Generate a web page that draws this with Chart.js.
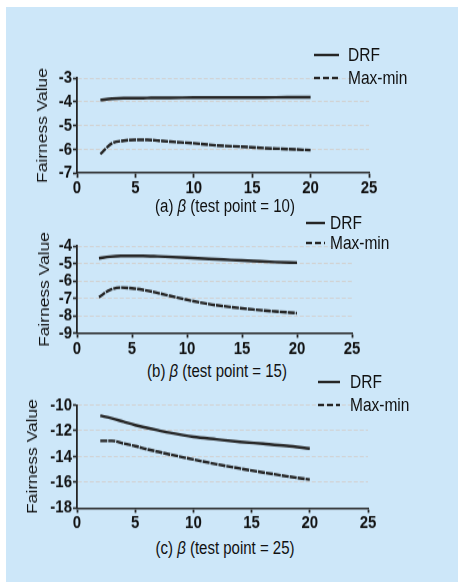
<!DOCTYPE html>
<html>
<head>
<meta charset="utf-8">
<script src="https://cdn.jsdelivr.net/npm/chart.js@4.4.0/dist/chart.umd.min.js"></script>
<style>
  body { margin: 0; width: 458px; height: 582px; background: #fff; position: relative; overflow: hidden;
         font-family: "Liberation Sans", Arial, sans-serif; color: #111; }
  #panel { position: absolute; left: 6px; top: 7px; right: 0; bottom: 0; background: #cde7f9; }
  .wrap { position: absolute; left: 0; transform-origin: 0 0; }
  .wrap canvas { display: block; }
  .cap { position: absolute; font-size: 15px; white-space: nowrap; transform: translate(-50%, -50%) scaleY(1.2); }
  .leg { position: absolute; font-size: 15.5px; white-space: nowrap; transform: translateY(-50%) scaleY(1.2);
         display: flex; align-items: center; }
</style>
</head>
<body>
<div id="panel"></div>

<div class="cap" style="left:225px;top:205px">(a) <i>β</i> (test point = 10)</div>
<div class="cap" style="left:217px;top:370px">(b) <i>β</i> (test point = 15)</div>
<div class="cap" style="left:225px;top:547px">(c) <i>β</i> (test point = 25)</div>

<script>
// beta values where curves were read
const betaX = [2, 3, 4, 5, 6, 7, 8, 10, 12, 14, 16, 18, 20];

// (a) test point = 10
const drfA    = [-3.93, -3.87, -3.85, -3.85, -3.84, -3.83, -3.83, -3.82, -3.82, -3.82, -3.82, -3.81, -3.81];
const maxminA = [-6.2, -5.75, -5.64, -5.6, -5.6, -5.64, -5.68, -5.75, -5.84, -5.89, -5.95, -5.99, -6.04];
// (b) test point = 15
const drfB    = [-4.71, -4.61, -4.57, -4.57, -4.57, -4.59, -4.61, -4.67, -4.74, -4.8, -4.86, -4.92, -4.96];
const maxminB = [-6.94, -6.52, -6.39, -6.43, -6.52, -6.65, -6.8, -7.09, -7.34, -7.51, -7.65, -7.76, -7.86];
// (c) test point = 25
const drfC    = [-10.83, -11.04, -11.3, -11.56, -11.77, -11.97, -12.16, -12.47, -12.67, -12.86, -13.01, -13.17, -13.38];
const maxminC = [-12.78, -12.78, -12.99, -13.19, -13.43, -13.64, -13.84, -14.23, -14.6, -14.93, -15.24, -15.53, -15.79];

const xTicks = { min: 0, max: 25, step: 5 };
const legendNames = ["DRF", "Max-min"];

const ink = "#262626";
const gridGrey = "#d2d2d2";
const stretch = 1.2; // the original figure is stretched vertically

function pts(ys) { return betaX.map((x, i) => ({ x: x, y: ys[i] })); }

function addLegend(lineX, len, gap, yDrf, yMm) {
  [[yDrf, ""], [yMm, "6 3"]].forEach(([y, dash], i) => {
    const d = document.createElement("div");
    d.className = "leg";
    d.style.left = lineX + "px";
    d.style.top = y + "px";
    d.innerHTML = '<svg width="' + len + '" height="4" style="margin-right:' + gap + 'px"><line x1="0" y1="2" x2="' + len +
      '" y2="2" stroke="' + ink + '" stroke-width="2" stroke-dasharray="' + dash + '"/></svg>' + legendNames[i];
    document.body.appendChild(d);
  });
}

// box: page coords of canvas top/bottom and plot top/bottom/right
function makeChart(drf, mm, yMin, yMax, yStep, box) {
  const wrap = document.createElement("div");
  wrap.className = "wrap";
  wrap.style.top = box.canvasTop + "px";
  wrap.style.transform = "scaleY(" + stretch + ")";
  const cv = document.createElement("canvas");
  const h = Math.round((box.canvasBot - box.canvasTop) / stretch);
  cv.width = 458; cv.height = h;
  wrap.appendChild(cv);
  document.body.insertBefore(wrap, document.querySelector(".cap"));
  const padTop = (box.plotTop - box.canvasTop) / stretch;
  const xh = h - (box.plotBot - box.canvasTop) / stretch;

  new Chart(cv, {
    type: "line",
    data: {
      datasets: [
        { label: legendNames[0], data: pts(drf), borderColor: ink, borderWidth: 2.4, pointRadius: 0,
          cubicInterpolationMode: "monotone", fill: false },
        { label: legendNames[1], data: pts(mm), borderColor: ink, borderWidth: 2.4, borderDash: [7, 1],
          pointRadius: 0, cubicInterpolationMode: "monotone", fill: false }
      ]
    },
    options: {
      responsive: false,
      animation: false,
      layout: { padding: { left: 0, top: padTop, right: 458 - box.plotRight, bottom: 0 } },
      plugins: { legend: { display: false }, tooltip: { enabled: false } },
      scales: {
        x: {
          type: "linear", min: xTicks.min, max: xTicks.max,
          ticks: { stepSize: xTicks.step, color: "#111", font: { size: 15, weight: "bold" }, padding: 0, maxRotation: 0 },
          grid: { drawOnChartArea: false, drawTicks: true, tickLength: 4, tickColor: ink, tickWidth: 1.8 },
          border: { color: ink, width: 1.6 },
          afterFit: s => { s.height = xh; }
        },
        y: {
          min: yMin, max: yMax,
          ticks: { stepSize: yStep, autoSkip: false, color: "#111", font: { size: 15, weight: "bold" }, padding: 1 },
          grid: {
            color: c => (c.tick && c.tick.value === yMin) ? "rgba(0,0,0,0)" : gridGrey,
            lineWidth: 1, tickLength: 4, tickColor: ink, tickWidth: 1.6
          },
          border: { color: ink, width: 1.8, dash: [4, 2] },
          title: { display: true, text: "Fairness Value", color: "#111", font: { size: 14.5 },
                   padding: { top: box.titleX - 8.7, bottom: 0 } },
          afterFit: s => { s.width = 77; }
        }
      }
    }
  });
}

makeChart(drfA, maxminA, -7, -3, 1, { canvasTop: 60, canvasBot: 201, plotTop: 78, plotBot: 173, plotRight: 369, titleX: 43 });
makeChart(drfB, maxminB, -9, -4, 1, { canvasTop: 228, canvasBot: 356, plotTop: 246, plotBot: 333, plotRight: 352, titleX: 45 });
makeChart(drfC, maxminC, -18, -10, 2, { canvasTop: 390, canvasBot: 531, plotTop: 405, plotBot: 508, plotRight: 368, titleX: 33 });

addLegend(314, 25, 9, 55, 78);
addLegend(306, 19, 5, 223, 243);
addLegend(318, 22, 10, 382, 405);
</script>
</body>
</html>
